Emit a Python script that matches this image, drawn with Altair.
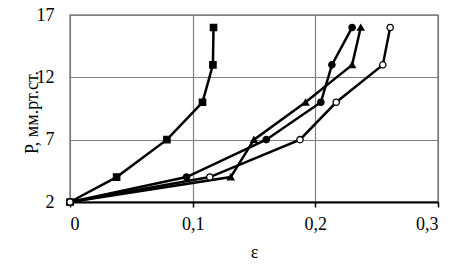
import altair as alt
import pandas as pd

P = [2, 4, 7, 10, 13, 16]
eps_sq = [0, 0.038, 0.079, 0.108, 0.1165, 0.117]
eps_ci = [0, 0.095, 0.160, 0.2045, 0.2135, 0.230]
eps_tr = [0, 0.131, 0.150, 0.192, 0.230, 0.237]
eps_op = [0, 0.114, 0.1875, 0.217, 0.255, 0.261]

series = ["s1", "s2", "s3", "s4"]
shapes = ["square", "circle", "triangle-up", "circle"]
fills = ["black", "black", "black", "white"]
sizes = [40, 40, 55, 35]

rows = []
for name, eps in zip(series, [eps_sq, eps_ci, eps_tr, eps_op]):
    for i, (e, p) in enumerate(zip(eps, P)):
        rows.append({"series": name, "eps": e, "P": p, "order": i})
df = pd.DataFrame(rows)

FONT = "Liberation Serif"

x = alt.X("eps:Q", title="ε",
          scale=alt.Scale(domain=[0, 0.3], nice=False),
          axis=alt.Axis(values=[0, 0.1, 0.2, 0.3],
                        labelExpr="datum.value == 0 ? '0' : replace(format(datum.value, '.1f'), '.', ',')",
                        domainColor="black", domainWidth=2, tickColor="black",
                        tickWidth=1.5, tickSize=5, labelPadding=8,
                        titleBaseline="alphabetic", titleY=55,
                        gridColor="#808080", gridWidth=1.2))
y = alt.Y("P:Q", title="Р, мм.рт.ст.",
          scale=alt.Scale(domain=[2, 17], nice=False),
          axis=alt.Axis(values=[2, 7, 12, 17], domain=False, ticks=False,
                        tickSize=0, labelPadding=16,
                        titleX=-33, titleY=97, titleAngle=-90,
                        titleAlign="center", titleBaseline="alphabetic",
                        gridColor="#808080", gridWidth=1.2))

lines = alt.Chart(df).mark_line(color="black", strokeWidth=2.5).encode(
    x=x, y=y, detail="series:N", order="order:Q")

points = alt.Chart(df).mark_point(filled=False, opacity=1, strokeWidth=1.3).encode(
    x=x, y=y,
    shape=alt.Shape("series:N", scale=alt.Scale(domain=series, range=shapes), legend=None),
    fill=alt.Fill("series:N", scale=alt.Scale(domain=series, range=fills), legend=None),
    size=alt.Size("series:N", scale=alt.Scale(domain=series, range=sizes), legend=None),
    color=alt.value("black"),
)

chart = (lines + points).properties(
    width=368, height=187,
    background="white",
    autosize=alt.AutoSizeParams(type="none"),
    padding={"left": 62, "top": 7, "right": 12, "bottom": 58},
).configure_axis(
    labelFont=FONT, titleFont=FONT, labelFontSize=18, titleFontSize=18,
    labelColor="black", titleColor="black", titleFontWeight="normal",
).configure_view(stroke="#808080", strokeWidth=1.5)

chart.save("out.html", embed_options={"renderer": "svg", "actions": False})
